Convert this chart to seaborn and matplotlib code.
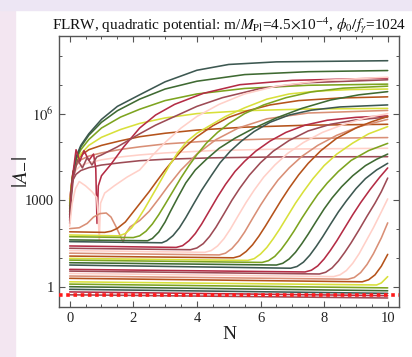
import numpy as np
import pandas as pd
import matplotlib
matplotlib.use("Agg")
import matplotlib.pyplot as plt
import seaborn as sns
from matplotlib.ticker import FixedLocator, NullFormatter

# ---------------- data (log10|A_-| vs N) ----------------
palette = {
    "rust": "#b5531b", "yellow": "#d8e03a", "olive": "#7da41f", "dgreen": "#3f6a32",
    "dslate": "#3d5851", "crimson": "#b42c45", "mauve": "#9d4b55",
    "lpink": "#ffd0c8", "salmon": "#d98f76",
}

curve_color = []
curve_N = []
curve_logA = []

def add(color, pts):
    curve_color.append(color)
    curve_N.append([p[0] for p in pts])
    curve_logA.append([p[1] for p in pts])

# early modes, already growing at N=0 (saturate quickly)
add("mauve",  [(0, 3.05), (0.05, 3.45), (0.1, 3.7), (0.2, 3.9), (0.35, 4.03), (0.6, 4.13), (1.0, 4.22), (1.6, 4.3), (2.2, 4.37), (3.0, 4.42), (4.5, 4.47), (6.5, 4.5), (10, 4.51)])
add("lpink",  [(0, 3.0), (0.05, 3.5), (0.1, 3.8), (0.2, 4.05), (0.35, 4.2), (0.6, 4.3), (1.0, 4.4), (1.6, 4.5), (2.2, 4.57), (3.0, 4.64), (4.5, 4.72), (6.5, 4.77), (10, 4.8)])
add("salmon", [(0, 2.9), (0.05, 3.5), (0.1, 3.9), (0.2, 4.2), (0.35, 4.4), (0.6, 4.53), (1.0, 4.64), (1.6, 4.76), (2.2, 4.85), (3.0, 4.95), (4.5, 5.06), (6.5, 5.13), (10, 5.17)])
add("rust",   [(0, 2.8), (0.05, 3.5), (0.1, 3.95), (0.2, 4.3), (0.35, 4.55), (0.6, 4.75), (1.0, 4.9), (1.6, 5.06), (2.2, 5.2), (3.0, 5.32), (4.0, 5.43), (5.5, 5.53), (7.5, 5.6), (10, 5.63)])
add("yellow", [(0, 2.7), (0.05, 3.4), (0.1, 3.9), (0.2, 4.3), (0.35, 4.6), (0.6, 4.9), (1.0, 5.18), (1.6, 5.45), (2.2, 5.66), (3.0, 5.85), (4.0, 6.0), (5.5, 6.1), (7.5, 6.16), (10, 6.18)])
add("olive",  [(0, 2.6), (0.05, 3.4), (0.1, 3.9), (0.2, 4.4), (0.35, 4.75), (0.6, 5.1), (1.0, 5.5), (1.6, 5.88), (2.2, 6.15), (3.0, 6.45), (4.0, 6.68), (5.5, 6.87), (7.5, 6.98), (10, 7.02)])
add("dgreen", [(0, 2.5), (0.05, 3.3), (0.1, 3.9), (0.2, 4.45), (0.35, 4.85), (0.6, 5.25), (1.0, 5.7), (1.5, 6.1), (2.2, 6.5), (3.0, 6.85), (4.0, 7.12), (5.5, 7.35), (7.5, 7.45), (10, 7.49)])
add("dslate", [(0, 2.4), (0.05, 3.2), (0.1, 3.85), (0.2, 4.5), (0.35, 4.9), (0.6, 5.3), (1.0, 5.8), (1.5, 6.25), (2.2, 6.65), (3.0, 7.1), (4.0, 7.5), (5.0, 7.7), (6.5, 7.79), (10, 7.83)])
# early modes with oscillations
add("crimson", [(0, 2.3), (0.05, 3.3), (0.1, 3.9), (0.2, 4.75), (0.32, 4.35), (0.45, 4.72), (0.6, 4.38), (0.75, 4.6), (0.82, 4.1), (0.86, 2.2), (0.9, 3.5), (1.0, 3.85), (1.3, 4.25), (1.7, 4.85), (2.2, 5.5), (2.7, 5.95), (3.3, 6.32), (4.2, 6.7), (5.35, 7.0), (7.0, 7.15), (10, 7.23)])
add("mauve",  [(0, 2.2), (0.06, 3.2), (0.12, 3.8), (0.25, 4.4), (0.4, 4.12), (0.55, 4.48), (0.7, 4.22), (0.85, 4.5), (1.0, 4.57), (1.5, 4.85), (2.2, 5.3), (2.7, 5.6), (3.3, 5.9), (4.0, 6.25), (4.8, 6.55), (6.0, 6.87), (7.5, 7.07), (10, 7.17)])
add("lpink",  [(0, 2.1), (0.08, 2.9), (0.18, 3.4), (0.3, 3.65), (0.5, 3.5), (0.7, 3.3), (0.85, 3.1), (0.9, 2.4), (0.93, 1.6), (0.97, 2.9), (1.1, 3.25), (1.4, 3.5), (1.8, 3.8), (2.2, 4.05), (2.6, 4.55), (3.0, 5.0), (3.5, 5.5), (4.0, 5.9), (4.7, 6.32), (5.5, 6.68), (6.5, 6.95), (8.0, 7.15), (10, 7.26)])
add("salmon", [(0, 2.02), (0.3, 2.05), (0.55, 2.2), (0.75, 2.42), (0.95, 2.54), (1.15, 2.56), (1.3, 2.42), (1.45, 2.1), (1.6, 1.75), (1.68, 1.55), (1.76, 1.85), (1.9, 2.08), (2.2, 2.3), (2.5, 2.62), (2.8, 3.05), (3.1, 3.5), (3.5, 4.05), (4.0, 4.6), (4.6, 5.1), (5.3, 5.5), (6.2, 5.82), (7.5, 6.02), (10, 6.11)])
# modes that start flat and grow later
add("rust",   [(0, 1.91), (1.1, 1.89), (1.3, 1.93), (1.5, 2.03), (1.75, 2.25), (2.0, 2.6), (2.25, 2.95), (2.5, 3.3), (2.75, 3.68), (3.0, 4.05), (3.3, 4.45), (3.6, 4.82), (4.0, 5.2), (4.5, 5.58), (5.0, 5.87), (5.6, 6.1), (6.3, 6.3), (7.2, 6.45), (8.5, 6.54), (10, 6.58)])
add("yellow", [(0, 1.8), (1.55, 1.77), (1.75, 1.85), (1.95, 2.05), (2.15, 2.35), (2.35, 2.7), (2.55, 3.08), (2.75, 3.46), (2.95, 3.85), (3.16, 4.25), (3.4, 4.65), (3.7, 5.05), (4.0, 5.32), (4.4, 5.58), (4.9, 5.9), (5.5, 6.2), (6.2, 6.5), (6.9, 6.68), (7.8, 6.78), (8.8, 6.83), (10, 6.85)])
add("olive",  [(0, 1.74), (2.0, 1.71), (2.2, 1.77), (2.4, 1.93), (2.6, 2.18), (2.8, 2.5), (3.0, 2.86), (3.25, 3.32), (3.5, 3.78), (3.75, 4.2), (4.0, 4.58), (4.3, 4.98), (4.65, 5.35), (5.0, 5.65), (5.5, 6.0), (6.1, 6.3), (6.8, 6.55), (7.6, 6.75), (8.6, 6.88), (10, 6.95)])
add("dgreen", [(0, 1.63), (2.45, 1.6), (2.6, 1.68), (2.8, 1.9), (3.0, 2.25), (3.16, 2.6), (3.4, 3.1), (3.65, 3.6), (3.95, 4.05), (4.3, 4.42), (4.7, 4.8), (5.2, 5.15), (5.8, 5.5), (6.5, 5.85), (7.3, 6.18), (8.2, 6.47), (9.1, 6.65), (10, 6.76)])
add("dslate", [(0, 1.57), (2.9, 1.53), (3.05, 1.6), (3.25, 1.78), (3.45, 2.05), (3.65, 2.4), (3.9, 2.88), (4.15, 3.35), (4.45, 3.85), (4.73, 4.3), (5.05, 4.7), (5.4, 5.05), (5.8, 5.38), (6.3, 5.7), (6.9, 5.95), (7.6, 6.12), (8.5, 6.23), (10, 6.3)])
add("crimson", [(0, 1.42), (3.35, 1.37), (3.55, 1.43), (3.75, 1.6), (3.95, 1.85), (4.15, 2.18), (4.4, 2.65), (4.65, 3.12), (4.9, 3.55), (5.2, 4.0), (5.5, 4.35), (5.85, 4.7), (6.3, 5.05), (6.8, 5.35), (7.4, 5.6), (8.1, 5.77), (9.0, 5.87), (10, 5.92)])
add("mauve",  [(0, 1.34), (3.8, 1.29), (4.0, 1.35), (4.2, 1.5), (4.4, 1.75), (4.6, 2.07), (4.85, 2.53), (5.1, 3.0), (5.35, 3.42), (5.65, 3.87), (6.0, 4.3), (6.4, 4.7), (6.9, 5.07), (7.5, 5.4), (8.2, 5.63), (9.0, 5.78), (10, 5.88)])
add("lpink",  [(0, 1.26), (4.25, 1.2), (4.45, 1.26), (4.65, 1.42), (4.85, 1.67), (5.05, 2.0), (5.3, 2.47), (5.55, 2.93), (5.8, 3.35), (6.1, 3.8), (6.45, 4.22), (6.85, 4.62), (7.35, 5.0), (7.95, 5.35), (8.6, 5.62), (9.3, 5.85), (10, 6.0)])
add("salmon", [(0, 1.17), (4.7, 1.11), (4.9, 1.17), (5.1, 1.33), (5.3, 1.58), (5.5, 1.9), (5.75, 2.37), (6.0, 2.83), (6.25, 3.25), (6.55, 3.7), (6.9, 4.12), (7.3, 4.52), (7.8, 4.9), (8.4, 5.25), (9.1, 5.55), (10, 5.8)])
add("rust",   [(0, 1.07), (5.15, 1.01), (5.35, 1.07), (5.55, 1.23), (5.75, 1.46), (5.95, 1.76), (6.15, 2.1), (6.4, 2.55), (6.65, 3.0), (6.9, 3.42), (7.2, 3.88), (7.5, 4.28), (7.9, 4.72), (8.4, 5.15), (9.0, 5.5), (9.5, 5.72), (10, 5.9)])
add("yellow", [(0, 0.99), (5.6, 0.92), (5.8, 0.98), (6.0, 1.14), (6.2, 1.37), (6.4, 1.67), (6.6, 2.0), (6.85, 2.45), (7.1, 2.9), (7.35, 3.3), (7.65, 3.75), (8.0, 4.2), (8.4, 4.6), (8.9, 4.98), (9.4, 5.3), (10, 5.55)])
add("olive",  [(0, 0.93), (6.05, 0.85), (6.25, 0.91), (6.45, 1.06), (6.65, 1.3), (6.85, 1.6), (7.05, 1.93), (7.3, 2.38), (7.55, 2.8), (7.8, 3.2), (8.1, 3.6), (8.45, 4.0), (8.85, 4.38), (9.4, 4.72), (10, 4.97)])
add("dgreen", [(0, 0.84), (6.5, 0.76), (6.7, 0.82), (6.9, 0.97), (7.1, 1.2), (7.3, 1.5), (7.5, 1.83), (7.75, 2.27), (8.0, 2.7), (8.25, 3.08), (8.55, 3.47), (8.9, 3.85), (9.3, 4.2), (9.65, 4.42), (10, 4.6)])
add("dslate", [(0, 0.76), (6.95, 0.65), (7.15, 0.71), (7.35, 0.86), (7.55, 1.1), (7.75, 1.4), (7.95, 1.73), (8.2, 2.17), (8.45, 2.6), (8.7, 2.98), (9.0, 3.4), (9.3, 3.75), (9.65, 4.05), (10, 4.28)])
add("crimson", [(0, 0.61), (7.4, 0.52), (7.6, 0.58), (7.8, 0.73), (8.0, 0.97), (8.2, 1.27), (8.4, 1.6), (8.65, 2.05), (8.9, 2.5), (9.15, 2.92), (9.45, 3.38), (9.75, 3.8), (10, 4.12)])
add("mauve",  [(0, 0.55), (7.85, 0.45), (8.05, 0.51), (8.25, 0.66), (8.45, 0.9), (8.65, 1.2), (8.85, 1.53), (9.1, 1.98), (9.35, 2.45), (9.6, 2.9), (9.8, 3.3), (10, 3.77)])
add("lpink",  [(0, 0.47), (8.3, 0.36), (8.5, 0.42), (8.7, 0.57), (8.9, 0.82), (9.1, 1.15), (9.3, 1.55), (9.55, 2.05), (9.8, 2.6), (10, 3.05)])
add("salmon", [(0, 0.38), (8.75, 0.27), (8.95, 0.33), (9.15, 0.5), (9.35, 0.78), (9.55, 1.15), (9.8, 1.7), (10, 2.22)])
add("rust",   [(0, 0.30), (9.2, 0.18), (9.4, 0.25), (9.6, 0.42), (9.8, 0.72), (10, 1.13)])
add("yellow", [(0, 0.18), (9.65, 0.07), (9.8, 0.14), (10, 0.36)])
add("olive",  [(0, 0.10), (10, -0.03)])
add("dgreen", [(0, 0.01), (10, -0.13)])
add("dslate", [(0, -0.08), (10, -0.22)])
add("crimson", [(0, -0.17), (10, -0.30)])
add("mauve",  [(0, -0.27), (10, -0.38)])

red_level = -0.28   # log10 of the red dotted reference line

title = r"FLRW, quadratic potential: m/$M_{\rm Pl}$=4.5$\times$10$^{-4}$, $\phi_0/f_\gamma$=1024"

# ---------------- build long-form table ----------------
rows = []
for i, (n, la) in enumerate(zip(curve_N, curve_logA)):
    for nn, ll in zip(n, la):
        rows.append({"curve": i, "N": nn, "A": 10.0 ** ll})
df = pd.DataFrame(rows)

sns.set_theme(style="ticks")
plt.rcParams["font.family"] = ["Liberation Serif", "DejaVu Serif"]
plt.rcParams["mathtext.fontset"] = "stix"

fig = plt.figure(figsize=(4.12, 3.57), dpi=100, facecolor="white")
fig.patches.append(matplotlib.patches.Rectangle((0, 0), 15 / 412, 1, transform=fig.transFigure,
                                                color="#f3e6f1", zorder=-10))
fig.patches.append(matplotlib.patches.Rectangle((0, 1 - 10 / 357), 1, 10 / 357, transform=fig.transFigure,
                                                color="#ede6f4", zorder=-10))
ax = fig.add_axes([59 / 412, 1 - 307 / 357, 340 / 412, 271 / 357])
ax.set_facecolor("white")

pal = [palette[c] for c in curve_color]
sns.lineplot(data=df, x="N", y="A", hue="curve", palette=pal, estimator=None, sort=False,
             legend=False, linewidth=1.15, ax=ax)
ax.axhline(10 ** red_level, color="#ff1a1a", linestyle=(0, (1, 1)), linewidth=2.6, zorder=5)

ax.set_yscale("log")
ax.set_xlim(-0.336, 10.355)
ax.set_ylim(10 ** -0.692, 10 ** 8.685)

ax.xaxis.set_major_locator(FixedLocator([0, 2, 4, 6, 8, 10]))
ax.xaxis.set_minor_locator(FixedLocator(np.arange(0, 10.01, 0.5)))
ax.set_xticklabels(["0", "2", "4", "6", "8", "10"])
ax.yaxis.set_major_locator(FixedLocator([1, 1e3, 1e6]))
ax.yaxis.set_minor_locator(FixedLocator([1e1, 1e2, 1e4, 1e5, 1e7, 1e8]))
ax.yaxis.set_minor_formatter(NullFormatter())
ax.set_yticklabels(["1", "1000", r"$10^6$"])

ax.tick_params(which="both", direction="in", top=True, right=True, color="#555555",
               labelsize=10.5, labelcolor="#222222")
ax.tick_params(which="major", length=4, width=0.8)
ax.tick_params(which="minor", length=2.2, width=0.7)
for s in ax.spines.values():
    s.set_color("#555555")
    s.set_linewidth(1.0)

ax.set_xlabel("N", fontsize=14, labelpad=1, color="#222222")
ax.set_ylabel(r"$|A_{-}|$", fontsize=15, color="#222222")
ax.yaxis.set_label_coords(-0.085, 0.5)
ax.set_title(title, fontsize=11, pad=4, color="#111111")

fig.savefig("out.png", dpi=100, facecolor=fig.get_facecolor())
